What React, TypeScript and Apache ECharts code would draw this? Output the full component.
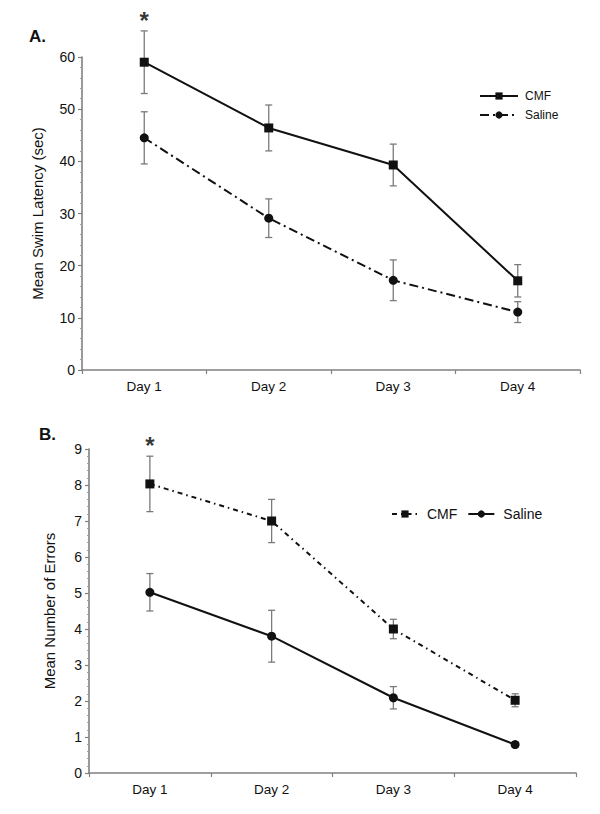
import React, { useEffect, useRef } from "react";
import * as echarts from "echarts";

const days = ["Day 1", "Day 2", "Day 3", "Day 4"];

// Panel A: Mean swim latency (sec)
const latencyCMF = [59.0, 46.4, 39.3, 17.1];
const latencyCMFErr = [6.0, 4.4, 4.0, 3.1];
const latencySaline = [44.5, 29.1, 17.2, 11.1];
const latencySalineErr = [5.0, 3.7, 3.9, 2.0];

// Panel B: Mean number of errors
const errorsCMF = [8.03, 7.0, 4.0, 2.02];
const errorsCMFErr = [0.77, 0.6, 0.27, 0.18];
const errorsSaline = [5.02, 3.8, 2.09, 0.79];
const errorsSalineErr = [0.52, 0.72, 0.31, 0.08];

// Significance markers (day index)
const significantDays = [0];

const latencyTicks = [0, 10, 20, 30, 40, 50, 60];
const errorTicks = [0, 1, 2, 3, 4, 5, 6, 7, 8, 9];

const FONT = "Liberation Sans, Arial, Helvetica, sans-serif";
const AXIS_COLOR = "#808080";
const ERR_COLOR = "#7a7a7a";

function errorData(vals: number[], errs: number[]) {
  return vals.map((v, i) => [i, v - errs[i], v + errs[i]]);
}

function errorSeries(idx: number, vals: number[], errs: number[]) {
  return {
    type: "custom",
    xAxisIndex: idx,
    yAxisIndex: idx,
    z: 1,
    silent: true,
    clip: false,
    data: errorData(vals, errs),
    renderItem: (params: any, api: any) => {
      const x = api.value(0);
      const lo = api.coord([x, api.value(1)]);
      const hi = api.coord([x, api.value(2)]);
      const cap = 3.5;
      const style = { stroke: ERR_COLOR, lineWidth: 1.3 };
      return {
        type: "group",
        children: [
          { type: "line", shape: { x1: hi[0], y1: hi[1], x2: lo[0], y2: lo[1] }, style },
          { type: "line", shape: { x1: hi[0] - cap, y1: hi[1], x2: hi[0] + cap, y2: hi[1] }, style },
          { type: "line", shape: { x1: lo[0] - cap, y1: lo[1], x2: lo[0] + cap, y2: lo[1] }, style },
        ],
      };
    },
  };
}

function starSeries(idx: number, vals: number[], errs: number[]) {
  return {
    type: "scatter",
    xAxisIndex: idx,
    yAxisIndex: idx,
    clip: false,
    silent: true,
    symbolSize: 1,
    itemStyle: { color: "rgba(0,0,0,0)" },
    data: significantDays.map((d) => [d, vals[d] + errs[d]]),
    label: {
      show: true,
      formatter: "*",
      position: "top",
      distance: -2,
      fontSize: 24,
      fontWeight: "bold",
      fontFamily: FONT,
      color: "#000",
    },
  };
}

function xAxis(gridIndex: number) {
  return {
    type: "category",
    gridIndex,
    data: days,
    boundaryGap: true,
    axisLine: { lineStyle: { color: AXIS_COLOR, width: 1.6 } },
    axisTick: { show: true, length: 4, lineStyle: { color: AXIS_COLOR, width: 1.2 } },
    axisLabel: { color: "#111", fontFamily: FONT, fontSize: 13.5, margin: 9 },
    splitLine: { show: false },
  };
}

function yAxis(gridIndex: number, ticks: number[], name: string, nameGap: number) {
  return {
    type: "value",
    gridIndex,
    min: ticks[0],
    max: ticks[ticks.length - 1],
    interval: ticks[1] - ticks[0],
    name,
    nameLocation: "middle",
    nameGap,
    nameTextStyle: { color: "#111", fontFamily: FONT, fontSize: 15 },
    axisLine: { show: true, lineStyle: { color: AXIS_COLOR, width: 1.6 } },
    axisTick: { show: true, length: 4, lineStyle: { color: AXIS_COLOR, width: 1.2 } },
    minorTick: { show: true, splitNumber: 5, length: 2, lineStyle: { color: "#a0a0a0", width: 1 } },
    axisLabel: { color: "#111", fontFamily: FONT, fontSize: 14, margin: 7 },
    splitLine: { show: false },
  };
}

export default function App() {
  const ref = useRef<HTMLDivElement>(null);

  useEffect(() => {
    document.body.style.margin = "0";
    if (!ref.current) return;
    const chart = echarts.init(ref.current, null, { renderer: "svg" });

    const solid = { color: "#111", width: 2, type: "solid" as const };
    const dashDotA = { color: "#111", width: 2, type: [9, 4, 2, 4] as any };
    const dashDotB = { color: "#111", width: 2, type: [5, 4, 1.5, 4] as any };

    chart.setOption({
      animation: false,
      backgroundColor: "#fff",
      textStyle: { fontFamily: FONT },
      grid: [
        { left: 82, right: 20, top: 57, height: 313 },
        { left: 89, right: 24, top: 449, height: 324 },
      ],
      xAxis: [xAxis(0), xAxis(1)],
      yAxis: [
        yAxis(0, latencyTicks, "Mean Swim Latency (sec)", 37),
        yAxis(1, errorTicks, "Mean Number of Errors", 32),
      ],
      legend: [
        {
          left: 474,
          top: 85,
          orient: "vertical",
          itemWidth: 38,
          itemHeight: 9,
          itemGap: 7,
          data: ["CMF", "Saline"],
          textStyle: { fontFamily: FONT, fontSize: 12, color: "#111", padding: [0, 0, 0, 2] },
        },
        {
          left: 386,
          top: 502,
          orient: "horizontal",
          itemWidth: 26,
          itemHeight: 9,
          itemGap: 10,
          data: ["CMF B", "Saline B"],
          formatter: (n: string) => n.replace(" B", ""),
          textStyle: { fontFamily: FONT, fontSize: 14, color: "#111", padding: [0, 0, 0, 4] },
        },
      ],
      graphic: [
        { type: "text", left: 29, top: 28, style: { text: "A.", font: "bold 17px " + FONT, fill: "#111" } },
        { type: "text", left: 39, top: 426, style: { text: "B.", font: "bold 17px " + FONT, fill: "#111" } },
      ],
      series: [
        errorSeries(0, latencyCMF, latencyCMFErr),
        errorSeries(0, latencySaline, latencySalineErr),
        starSeries(0, latencyCMF, latencyCMFErr),
        {
          name: "CMF",
          type: "line",
          xAxisIndex: 0,
          yAxisIndex: 0,
          z: 3,
          data: latencyCMF,
          symbol: "rect",
          symbolSize: 9,
          itemStyle: { color: "#111" },
          lineStyle: solid,
        },
        {
          name: "Saline",
          type: "line",
          xAxisIndex: 0,
          yAxisIndex: 0,
          z: 3,
          data: latencySaline,
          symbol: "circle",
          symbolSize: 9,
          itemStyle: { color: "#111" },
          lineStyle: dashDotA,
        },
        errorSeries(1, errorsCMF, errorsCMFErr),
        errorSeries(1, errorsSaline, errorsSalineErr),
        starSeries(1, errorsCMF, errorsCMFErr),
        {
          name: "CMF B",
          type: "line",
          xAxisIndex: 1,
          yAxisIndex: 1,
          z: 3,
          data: errorsCMF,
          symbol: "rect",
          symbolSize: 9,
          itemStyle: { color: "#111" },
          lineStyle: dashDotB,
        },
        {
          name: "Saline B",
          type: "line",
          xAxisIndex: 1,
          yAxisIndex: 1,
          z: 3,
          data: errorsSaline,
          symbol: "circle",
          symbolSize: 9,
          itemStyle: { color: "#111" },
          lineStyle: solid,
        },
      ],
    });

    return () => chart.dispose();
  }, []);

  return <div ref={ref} style={{ width: 600, height: 814 }} />;
}
